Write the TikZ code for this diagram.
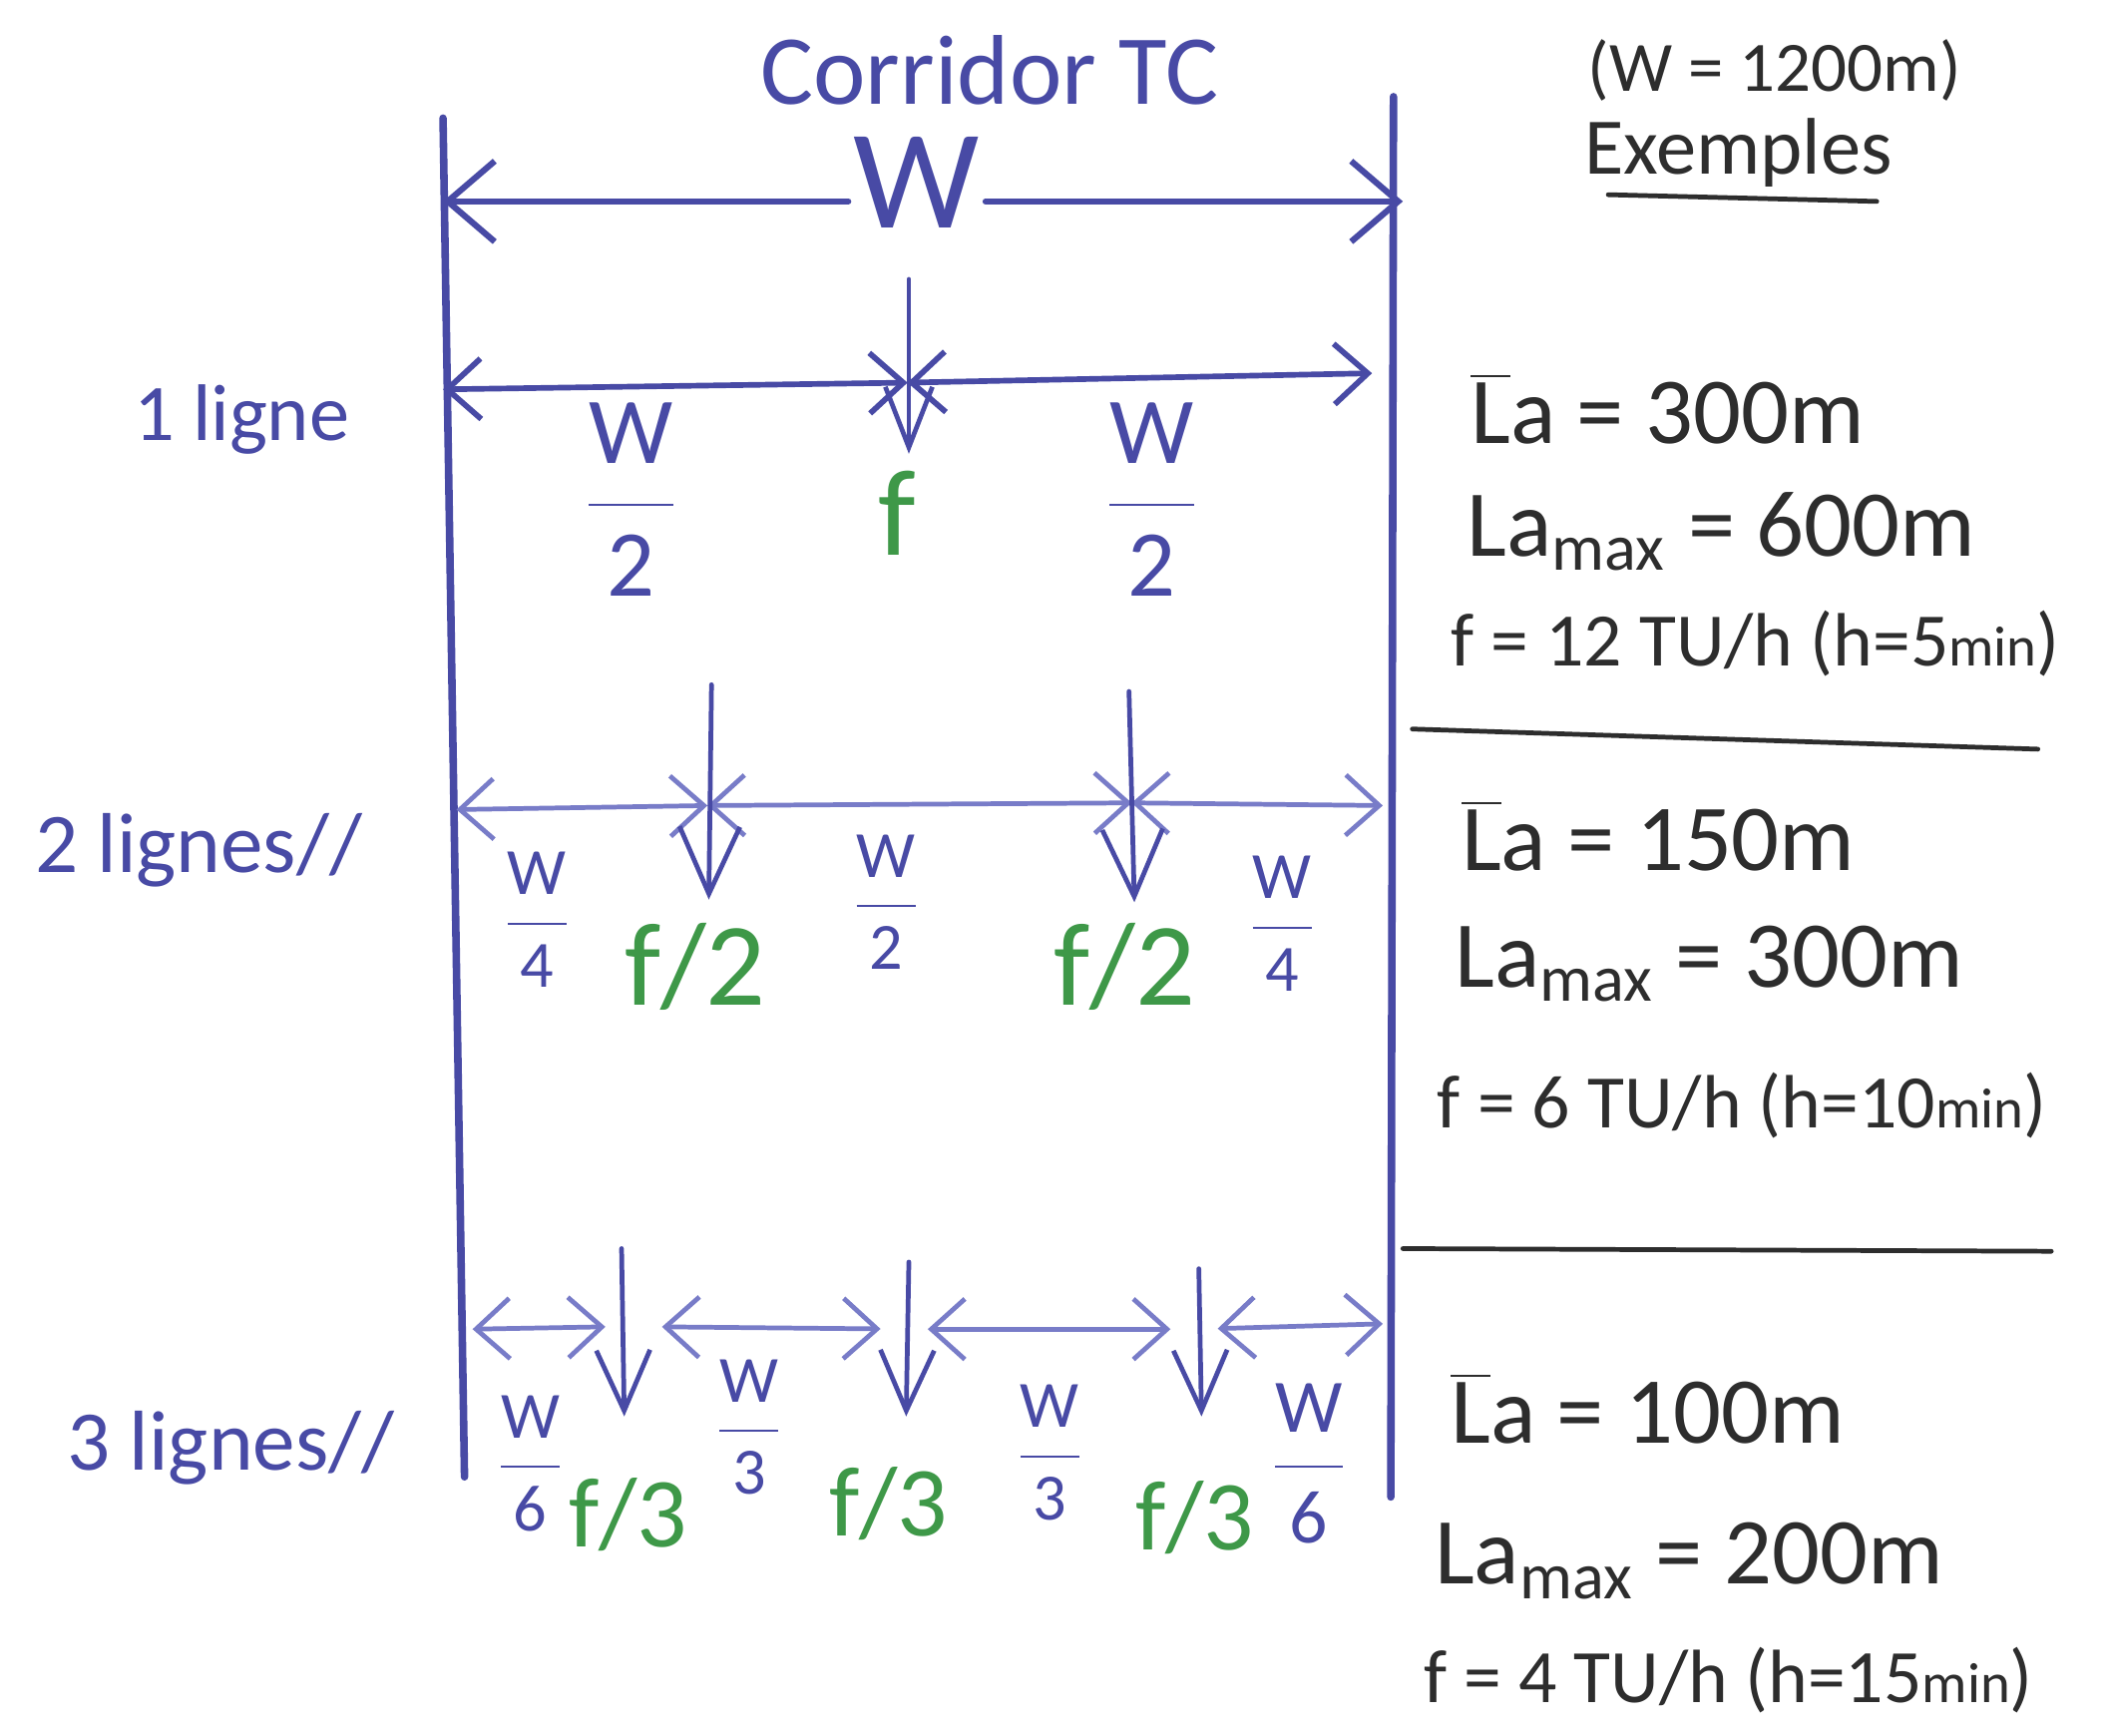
\documentclass[tikz,border=0pt]{standalone}
\usepackage{fontspec}
\setmainfont{Carlito}
\usetikzlibrary{arrows.meta}
\usetikzlibrary{positioning}

\definecolor{penblue}{RGB}{72,74,165}
\definecolor{lightpen}{RGB}{120,124,200}
\definecolor{pengreen}{RGB}{62,152,72}
\definecolor{penblack}{RGB}{45,45,45}

\newcommand{\frx}[2]{$\displaystyle\frac{\mbox{#1}}{\mbox{#2}}$}
\newcommand{\fs}[1]{\fontsize{#1}{#1}\selectfont}
\newcommand{\mn}{{\fs{12}min}}

\tikzset{
  pen/.style={penblue, line width=1.3pt, line cap=round},
  thinpen/.style={lightpen, line width=1pt, line cap=round},
  dim/.style={thinpen, {Straight Barb[length=2.5mm,width=4.5mm]}-{Straight Barb[length=2.5mm,width=4.5mm]}},
  drop/.style={pen, line width=1pt, -{Straight Barb[length=5mm,width=4.5mm]}},
  lab/.style={text=penblue, inner sep=1pt},
  flab/.style={text=pengreen, inner sep=1pt},
  note/.style={text=penblack, inner sep=0pt, anchor=base west},
  sep/.style={penblack, line width=1pt, line cap=round}
}

\begin{document}
\begin{tikzpicture}[x=0.01cm, y=-0.01cm]
  \fill[white] (0,0) rectangle (1568,1293);
  \useasboundingbox (0,0) rectangle (1568,1293);

  % corridor
  \coordinate (wltop) at (330,88);
  \coordinate (wlbot) at (346,1100);
  \coordinate (wrtop) at (1038,72);
  \coordinate (wrbot) at (1036,1115);
  \draw[pen, line width=1.6pt] (wltop) -- (wlbot);
  \draw[pen, line width=1.6pt] (wrtop) -- (wrbot);

  \node[lab, font=\fs{21}, anchor=base] (title) at (737,78) {Corridor TC};
  \node[lab, font=\fs{30}] (W) at (683,136) {W};
  \coordinate (topL) at (330,150);
  \coordinate (topR) at (1045,150);
  \draw[pen, {Straight Barb[length=3.5mm,width=6mm]}-] (topL) -- (W.west |- topL);
  \draw[pen, -{Straight Barb[length=3.5mm,width=6mm]}] (W.east |- topR) -- (topR);

  % examples header
  \node[note, font=\fs{15}, anchor=base] (wval) at (1322,68) {(W = 1200m)};
  \node[note, font=\fs{17}, anchor=base] (ex) at (1295,130) {Exemples};
  \draw[sep] (1198,145) -- (1398,150);

  % 1 ligne
  \node[lab, font=\fs{17}, anchor=base] (l1) at (180,328) {1 ligne};
  \coordinate (r1a) at (330,290);
  \coordinate (r1m) at (676,285);
  \coordinate (r1b) at (1022,278);
  \draw[dim, penblue, line width=1.2pt] (r1a) -- (r1m);
  \draw[dim, penblue, line width=1.2pt] (r1m) -- (r1b);
  \coordinate (f1top) at (677,208);
  \coordinate (f1tip) at (677,338);
  \draw[drop, -{Straight Barb[length=4.5mm,width=3.5mm]}] (f1top) -- (f1tip);
  \node[lab, font=\fs{20}] (w2a) at (470,372) {\frx{W}{2}};
  \node[flab, font=\fs{26}] (f1) at (668,382) {f};
  \node[lab, font=\fs{20}] (w2b) at (858,372) {\frx{W}{2}};

  \node[note, font=\fs{20}] (la1) at (1095,330) {$\overline{\mbox{L}}$a = 300m};
  \node[note, font=\fs{20}] (lm1) at (1092,414) {La\textsubscript{max} = 600m};
  \node[note, font=\fs{16}] (fr1) at (1080,496) {f = 12 TU/h (h=5\mn)};
  \draw[sep] (1052,543) -- (1518,558);

  % 2 lignes
  \node[lab, font=\fs{18}, anchor=base] (l2) at (148,650) {2 lignes//};
  \coordinate (r2a) at (340,603);
  \coordinate (r2m) at (527,600);
  \coordinate (r2n) at (843,598);
  \coordinate (r2b) at (1030,600);
  \draw[dim] (r2a) -- (r2m);
  \draw[dim] (r2m) -- (r2n);
  \draw[dim] (r2n) -- (r2b);
  \coordinate (f2atop) at (530,510);
  \coordinate (f2atip) at (528,670);
  \coordinate (f2btop) at (841,515);
  \coordinate (f2btip) at (845,672);
  \draw[drop] (f2atop) -- (f2atip);
  \draw[drop] (f2btop) -- (f2btip);
  \node[lab, font=\fs{14}] (w4a) at (400,685) {\frx{W}{4}};
  \node[flab, font=\fs{25}] (f2a) at (518,720) {f/2};
  \node[lab, font=\fs{14}] (w2c) at (660,672) {\frx{W}{2}};
  \node[flab, font=\fs{25}] (f2b) at (838,720) {f/2};
  \node[lab, font=\fs{14}] (w4b) at (955,688) {\frx{W}{4}};

  \node[note, font=\fs{20}] (la2) at (1088,648) {$\overline{\mbox{L}}$a = 150m};
  \node[note, font=\fs{20}] (lm2) at (1083,735) {La\textsubscript{max} = 300m};
  \node[note, font=\fs{16}] (fr2) at (1070,840) {f = 6 TU/h (h=10\mn)};
  \draw[sep] (1045,930) -- (1528,932);

  % 3 lignes
  \node[lab, font=\fs{18}, anchor=base] (l3) at (172,1095) {3 lignes//};
  \coordinate (r3a) at (352,990);
  \coordinate (r3m) at (465,988);
  \coordinate (r3n) at (677,990);
  \coordinate (r3o) at (893,990);
  \coordinate (r3b) at (1030,986);
  \draw[dim, shorten >=4pt] (r3a) -- (r3m);
  \draw[dim, shorten <=8pt, shorten >=6pt] (r3m) -- (r3n);
  \draw[dim, shorten <=4pt, shorten >=6pt] (r3n) -- (r3o);
  \draw[dim, shorten <=4pt] (r3o) -- (r3b);
  \coordinate (f3atop) at (463,930);
  \coordinate (f3atip) at (465,1055);
  \coordinate (f3btop) at (677,940);
  \coordinate (f3btip) at (675,1055);
  \coordinate (f3ctop) at (893,945);
  \coordinate (f3ctip) at (895,1055);
  \draw[drop, -{Straight Barb[length=4.5mm,width=4mm]}] (f3atop) -- (f3atip);
  \draw[drop, -{Straight Barb[length=4.5mm,width=4mm]}] (f3btop) -- (f3btip);
  \draw[drop, -{Straight Barb[length=4.5mm,width=4mm]}] (f3ctop) -- (f3ctip);
  \node[lab, font=\fs{14}] (w6a) at (395,1090) {\frx{W}{6}};
  \node[flab, font=\fs{21}] (f3a) at (468,1128) {f/3};
  \node[lab, font=\fs{14}] (w3a) at (558,1063) {\frx{W}{3}};
  \node[flab, font=\fs{21}] (f3b) at (662,1120) {f/3};
  \node[lab, font=\fs{14}] (w3b) at (782,1082) {\frx{W}{3}};
  \node[flab, font=\fs{21}] (f3c) at (890,1130) {f/3};
  \node[lab, font=\fs{16}] (w6b) at (975,1090) {\frx{W}{6}};

  \node[note, font=\fs{20}] (la3) at (1080,1075) {$\overline{\mbox{L}}$a = 100m};
  \node[note, font=\fs{20}] (lm3) at (1068,1180) {La\textsubscript{max} = 200m};
  \node[note, font=\fs{16}] (fr3) at (1060,1268) {f = 4 TU/h (h=15\mn)};
\end{tikzpicture}
\end{document}
